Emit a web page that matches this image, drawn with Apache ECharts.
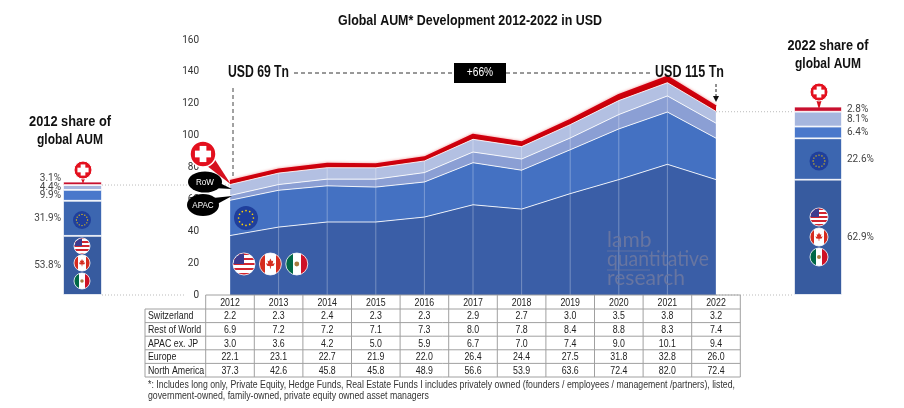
<!DOCTYPE html>
<html>
<head>
<meta charset="utf-8">
<script src="https://cdn.jsdelivr.net/npm/echarts@6/dist/echarts.min.js"></script>
<style>
  html, body { margin: 0; padding: 0; background: #fff; }
  #main { width: 904px; height: 408px; }
</style>
</head>
<body>
<div id="main"></div>
<script>
// data (USD Tn)
var years = ['2012', '2013', '2014', '2015', '2016', '2017', '2018', '2019', '2020', '2021', '2022'];
var switzerland = [2.2, 2.3, 2.4, 2.3, 2.3, 2.9, 2.7, 3.0, 3.5, 3.8, 3.2];
var restOfWorld = [6.9, 7.2, 7.2, 7.1, 7.3, 8.0, 7.8, 8.4, 8.8, 8.3, 7.4];
var apac = [3.0, 3.6, 4.2, 5.0, 5.9, 6.7, 7.0, 7.4, 9.0, 10.1, 9.4];
var europe = [22.1, 23.1, 22.7, 21.9, 22.0, 26.4, 24.4, 27.5, 31.8, 32.8, 26.0];
var northAmerica = [37.3, 42.6, 45.8, 45.8, 48.9, 56.6, 53.9, 63.6, 72.4, 82.0, 72.4];

// share bars, bottom to top
var share2012 = [53.8, 31.9, 9.9, 4.4, 3.1];
var share2022 = [62.9, 22.6, 6.4, 8.1, 2.8];
var total2012 = 69;
var total2022 = 115;

var tableRows = [
  ['Switzerland', switzerland],
  ['Rest of World', restOfWorld],
  ['APAC ex. JP', apac],
  ['Europe', europe],
  ['North America', northAmerica]
];

var SANS = "'Liberation Sans', Arial, sans-serif";
var areaColors = ['#3a5ea7', '#4471c2', '#8b9fd4', '#b3c0e2', '#c8000a'];
var barColors = ['#375b9f', '#3c66b0', '#4a78cb', '#a6b6de', '#c8102e'];

var chart = echarts.init(document.getElementById('main'));

// top of the blue layers, for the vertical white lines
var blueTops = years.map(function (y, i) {
  return northAmerica[i] + europe[i] + apac[i] + restOfWorld[i];
});

function areaSeries(name, data, idx) {
  return {
    name: name,
    type: 'line',
    stack: 'aum',
    data: data,
    symbol: 'none',
    xAxisIndex: 0,
    yAxisIndex: 0,
    lineStyle: idx === 4
      ? { color: '#d00010', width: 2, shadowColor: 'rgba(230,0,0,0.5)', shadowBlur: 3 }
      : { color: 'rgba(255,255,255,0.85)', width: 1 },
    areaStyle: { color: areaColors[idx], opacity: 1 },
    emphasis: { disabled: true },
    z: 2
  };
}

function shareBars(shares, total, axisIdx, labelPos) {
  return shares.map(function (s, i) {
    return {
      type: 'bar',
      stack: 'share' + axisIdx,
      xAxisIndex: axisIdx,
      yAxisIndex: axisIdx,
      barWidth: '100%',
      data: [s * total / 100],
      itemStyle: { color: barColors[i], borderColor: '#fff', borderWidth: 0.8 },
      label: {
        show: true,
        position: labelPos,
        distance: labelPos === 'left' ? 2 : 5,
        offset: (labelPos === 'left' && i === 4) ? [0, -5] : [0, 0],
        formatter: s.toFixed(1) + '%',
        fontFamily: 'Roboto, sans-serif',
        fontSize: 10,
        color: '#444'
      },
      emphasis: { disabled: true }
    };
  });
}

var hiddenY = function (gi) {
  return { type: 'value', gridIndex: gi, min: 0, max: 160, show: false };
};
var hiddenX = function (gi) {
  return { type: 'category', gridIndex: gi, data: ['x'], show: false };
};

var option = {
  animation: false,
  grid: [
    { left: 230, right: 188, top: 40, bottom: 113 },
    { left: 63, width: 39, top: 40, bottom: 113 },
    { left: 794, width: 48, top: 40, bottom: 113 }
  ],
  xAxis: [
    {
      type: 'category', gridIndex: 0, data: years, boundaryGap: false,
      axisLine: { show: false }, axisTick: { show: false }, axisLabel: { show: false },
      splitLine: { show: false }
    },
    hiddenX(1), hiddenX(2)
  ],
  yAxis: [
    {
      type: 'value', gridIndex: 0, min: 0, max: 160, interval: 20,
      axisLine: { show: false }, axisTick: { show: false }, splitLine: { show: false },
      axisLabel: { margin: 31, color: '#333', fontSize: 10, fontFamily: 'Roboto, sans-serif' }
    },
    hiddenY(1), hiddenY(2)
  ],
  series: [
    areaSeries('North America', northAmerica, 0),
    areaSeries('Europe', europe, 1),
    areaSeries('APAC ex. JP', apac, 2),
    areaSeries('Rest of World', restOfWorld, 3),
    areaSeries('Switzerland', switzerland, 4),
    {
      type: 'custom',
      xAxisIndex: 0,
      yAxisIndex: 0,
      z: 3,
      silent: true,
      data: blueTops.map(function (v, i) { return [i, v]; }),
      renderItem: function (params, api) {
        var p0 = api.coord([api.value(0), 0]);
        var p1 = api.coord([api.value(0), api.value(1)]);
        return {
          type: 'line',
          shape: { x1: p0[0], y1: p0[1], x2: p1[0], y2: p1[1] },
          style: { stroke: 'rgba(255,255,255,0.3)', lineWidth: 1 }
        };
      }
    }
  ].concat(shareBars(share2012, total2012, 1, 'left'))
   .concat(shareBars(share2022, total2022, 2, 'right'))
};

chart.setOption(option);

// ---------- annotations / table built on the chart's own scales ----------
function px(gi, x, y) {
  return chart.convertToPixel({ gridIndex: gi }, [x, y]);
}

var measureCtx = document.createElement('canvas').getContext('2d');
function textWidth(t, size, weight, family) {
  measureCtx.font = weight + ' ' + size + 'px ' + family;
  return measureCtx.measureText(t).width;
}

// text squeezed horizontally to mimic the condensed fonts of the original
function txt(t, x, y, size, opts) {
  opts = opts || {};
  var family = opts.family || SANS;
  var weight = opts.weight || 'normal';
  var sx = opts.scaleX || 0.82;
  if (opts.width) sx = opts.width / textWidth(t, size, weight, family);
  return {
    type: 'text', z: 50, silent: true,
    x: x, y: y, scaleX: sx, originX: 0, originY: 0,
    style: {
      text: t, x: 0, y: 0,
      fontSize: size,
      fontFamily: family,
      fontWeight: weight,
      fill: opts.color || '#222',
      align: opts.align || 'left',
      verticalAlign: 'middle'
    }
  };
}

function line(x1, y1, x2, y2, stroke, dash, w) {
  return {
    type: 'line', z: 40, silent: true,
    shape: { x1: x1, y1: y1, x2: x2, y2: y2 },
    style: { stroke: stroke, lineWidth: w || 1, lineDash: dash || null }
  };
}

function tail(cx, cy, r, tx, ty, color) {
  var a = Math.atan2(ty - cy, tx - cx);
  var b = r * 0.55;
  return {
    type: 'polygon', z: 44, silent: true,
    shape: {
      points: [
        [cx + Math.cos(a + Math.PI / 2) * b, cy + Math.sin(a + Math.PI / 2) * b],
        [tx, ty],
        [cx + Math.cos(a - Math.PI / 2) * b, cy + Math.sin(a - Math.PI / 2) * b]
      ]
    },
    style: { fill: color }
  };
}

function swissPin(cx, cy, r, tx, ty) {
  var arm = r * 0.62, th = r * 0.26;
  return [
    tail(cx, cy, r, tx, ty, '#d6101e'),
    { type: 'circle', z: 45, silent: true, shape: { cx: cx, cy: cy, r: r },
      style: { fill: '#e3101e', stroke: '#fff', lineWidth: r > 10 ? 1.5 : 1 } },
    { type: 'rect', z: 46, silent: true, shape: { x: cx - arm, y: cy - th, width: arm * 2, height: th * 2 }, style: { fill: '#fff' } },
    { type: 'rect', z: 46, silent: true, shape: { x: cx - th, y: cy - arm, width: th * 2, height: arm * 2 }, style: { fill: '#fff' } }
  ];
}

function bubble(cx, cy, rx, ry, label, tx, ty) {
  return [
    tail(cx, cy, ry, tx, ty, '#000'),
    { type: 'circle', z: 45, silent: true, shape: { cx: 0, cy: 0, r: ry },
      x: cx, y: cy, scaleX: rx / ry, style: { fill: '#000' } },
    txt(label, cx, cy, 9.5, { color: '#fff', align: 'center', scaleX: 0.85 })
  ];
}

function stripes(cols, horizontal) {
  var stops = [];
  cols.forEach(function (c, i) {
    stops.push({ offset: i / cols.length, color: c });
    stops.push({ offset: (i + 1) / cols.length, color: c });
  });
  return { type: 'linear', x: 0, y: 0, x2: horizontal ? 1 : 0, y2: horizontal ? 0 : 1, colorStops: stops };
}

function usFlag(cx, cy, r) {
  var c = [];
  for (var k = 0; k < 9; k++) c.push(k % 2 === 0 ? '#d22630' : '#fff');
  return [
    { type: 'circle', z: 45, silent: true, shape: { cx: cx, cy: cy, r: r },
      style: { fill: stripes(c, false), stroke: '#fff', lineWidth: 0.8 } },
    { type: 'sector', z: 46, silent: true,
      shape: { cx: cx, cy: cy, r0: 0, r: r - 0.5, startAngle: Math.PI, endAngle: Math.PI * 1.5, clockwise: true },
      style: { fill: '#3c3b8e' } }
  ];
}

function caFlag(cx, cy, r) {
  var s = r / 10;
  var leaf = [[0, -5], [1.2, -2.6], [2.6, -3.2], [2, 0], [4, -0.8], [3, 1.6], [0.4, 2], [0.4, 4.2],
              [-0.4, 4.2], [-0.4, 2], [-3, 1.6], [-4, -0.8], [-2, 0], [-2.6, -3.2], [-1.2, -2.6]];
  return [
    { type: 'circle', z: 45, silent: true, shape: { cx: cx, cy: cy, r: r },
      style: { fill: stripes(['#d52b1e', '#fff', '#fff', '#d52b1e'], true), stroke: '#fff', lineWidth: 0.8 } },
    { type: 'polygon', z: 46, silent: true,
      shape: { points: leaf.map(function (p) { return [cx + p[0] * s, cy + p[1] * s]; }) },
      style: { fill: '#d52b1e' } }
  ];
}

function mxFlag(cx, cy, r) {
  return [
    { type: 'circle', z: 45, silent: true, shape: { cx: cx, cy: cy, r: r },
      style: { fill: stripes(['#006847', '#fff', '#ce1126'], true), stroke: '#fff', lineWidth: 0.8 } },
    { type: 'circle', z: 46, silent: true, shape: { cx: cx, cy: cy, r: r * 0.22 },
      style: { fill: '#a87a3e' } }
  ];
}

function euFlag(cx, cy, r) {
  var els = [{ type: 'circle', z: 45, silent: true, shape: { cx: cx, cy: cy, r: r },
    style: { fill: '#1f3f9c' } }];
  for (var k = 0; k < 12; k++) {
    var a = k / 12 * Math.PI * 2;
    els.push({ type: 'circle', z: 46, silent: true,
      shape: { cx: cx + Math.cos(a) * r * 0.62, cy: cy + Math.sin(a) * r * 0.62, r: Math.max(0.6, r * 0.07) },
      style: { fill: '#ffd200' } });
  }
  return els;
}

function northAmericaFlags(cx, cys, r, horizontal) {
  var pos = function (i) { return horizontal ? [cx + i * (r * 2.4), cys] : [cx, cys[i]]; };
  return [].concat(
    usFlag(pos(0)[0], pos(0)[1], r),
    caFlag(pos(1)[0], pos(1)[1], r),
    mxFlag(pos(2)[0], pos(2)[1], r)
  );
}

function buildGraphics() {
  var g = [];
  var zeroY = px(0, 0, 0)[1];
  var first = px(0, 0, 0)[0];
  var last = px(0, years.length - 1, 0)[0];
  var step = (last - first) / (years.length - 1);
  var lvl2012 = px(1, 0, total2012)[1];
  var lvl2022 = px(2, 0, total2022)[1];
  var leftBarRight = 102, rightBarLeft = 794;
  var dotted = [1, 2];
  var head = { weight: 'bold', align: 'center', color: '#111' };

  // titles
  g.push(txt('Global AUM* Development 2012-2022 in USD', 470, 21, 14.5, Object.assign({ width: 264 }, head)));
  g.push(txt('2012 share of', 70, 122, 15.5, Object.assign({ width: 82 }, head)));
  g.push(txt('global AUM', 70, 140, 15.5, Object.assign({ width: 66 }, head)));
  g.push(txt('2022 share of', 828, 46, 15.5, Object.assign({ width: 81 }, head)));
  g.push(txt('global AUM', 828, 64, 15.5, Object.assign({ width: 66 }, head)));

  // reference dotted lines
  g.push(line(leftBarRight, zeroY, 186, zeroY, '#bbb', dotted));
  g.push(line(leftBarRight, lvl2012, first, lvl2012, '#bbb', dotted));
  g.push(line(last, zeroY, rightBarLeft, zeroY, '#bbb', dotted));
  g.push(line(last, lvl2022, rightBarLeft, lvl2022, '#bbb', dotted));

  // growth annotation
  g.push(txt('USD 69 Tn', 228, 73, 16, { weight: 'bold', color: '#111', width: 61 }));
  g.push(txt('USD 115 Tn', 724, 73, 16, { weight: 'bold', align: 'right', color: '#111', width: 69 }));
  g.push(line(294, 73, 454, 73, '#333', [4, 3]));
  g.push(line(506, 73, 650, 73, '#333', [4, 3]));
  g.push({ type: 'rect', z: 45, silent: true, shape: { x: 454, y: 63, width: 52, height: 20 }, style: { fill: '#000' } });
  g.push(txt('+66%', 480, 73, 12, { color: '#fff', align: 'center', scaleX: 0.85 }));
  g.push(line(first + 3, 88, first + 3, px(0, 0, 71.5)[1] - 3, '#444', [4, 3]));
  g.push(line(last, 84, last, 97, '#222', [3, 2]));
  g.push({ type: 'polygon', z: 45, silent: true,
    shape: { points: [[last - 3, 96], [last + 3, 96], [last, 102]] }, style: { fill: '#111' } });

  // main chart icons
  g = g.concat(swissPin(203, 154, 13, first + 1, px(0, 0, 70)[1] + 1));
  g = g.concat(bubble(205, 182, 17, 10.5, 'RoW', first + 2, 189));
  g = g.concat(bubble(203, 205, 16, 11, 'APAC', first + 2, 196));
  g = g.concat(euFlag(246, 218, 12));
  g = g.concat(northAmericaFlags(244, 264, 11, true));

  // share bar icons
  g = g.concat(swissPin(83, 170, 9, 83, lvl2012 - 1));
  g = g.concat(euFlag(82, 220, 9));
  g = g.concat(northAmericaFlags(82, [246, 263, 281], 8, false));
  g = g.concat(swissPin(819, 92, 9, 819, lvl2022 - 2));
  g = g.concat(euFlag(819, 161, 9.5));
  g = g.concat(northAmericaFlags(819, [217, 237, 257], 9, false));

  // watermark
  var wm = { color: 'rgba(105,118,160,0.95)', family: 'Lato, sans-serif', scaleX: 1 };
  g.push(txt('lamb', 607, 240, 21, wm));
  g.push(txt('quantitative', 607, 259, 21, Object.assign({}, wm, { width: 102 })));
  g.push(txt('research', 607, 278, 21, Object.assign({}, wm, { width: 78 })));
  g.push(line(607, 251, 648, 251, 'rgba(105,118,160,0.8)', null, 1));
  g.push(line(607, 270, 650, 270, 'rgba(105,118,160,0.8)', null, 1));

  // table
  var tTop = 295, headH = 14, rowH = 13.6;
  var tLeft = 145, labelRight = first - step / 2, tRight = last + step / 2;
  var tBottom = tTop + headH + rowH * tableRows.length;
  var border = '#a0a0a0';
  var cell = { scaleX: 0.8 };
  g.push(line(labelRight, tTop, tRight, tTop, border));
  for (var r = 0; r <= tableRows.length; r++) {
    var yy = tTop + headH + r * rowH;
    g.push(line(tLeft, yy, tRight, yy, border));
  }
  g.push(line(tLeft, tTop + headH, tLeft, tBottom, border));
  for (var c = 0; c <= years.length; c++) {
    var xx = labelRight + c * step;
    g.push(line(xx, tTop, xx, tBottom, border));
  }
  years.forEach(function (y, i) {
    g.push(txt(y, px(0, i, 0)[0], tTop + headH / 2 + 0.5, 11, Object.assign({ align: 'center' }, cell)));
  });
  tableRows.forEach(function (row, ri) {
    var cy = tTop + headH + ri * rowH + rowH / 2 + 0.5;
    g.push(txt(row[0], tLeft + 3, cy, 11, cell));
    row[1].forEach(function (v, i) {
      g.push(txt(v.toFixed(1), px(0, i, 0)[0], cy, 11, Object.assign({ align: 'center' }, cell)));
    });
  });

  // footnote
  var note1 = '*: Includes long only, Private Equity, Hedge Funds, Real Estate Funds I includes privately owned (founders / employees / management /partners), listed,';
  var noteScale = 587 / textWidth(note1, 10.5, 'normal', SANS);
  g.push(txt(note1, 148, 385, 10.5, { color: '#333', scaleX: noteScale }));
  g.push(txt('government-owned, family-owned, private equity owned asset managers', 148, 396, 10.5, { color: '#333', scaleX: noteScale }));

  return g;
}

chart.setOption({ graphic: { elements: buildGraphics() } });
window.onresize = chart.resize;
</script>
</body>
</html>
